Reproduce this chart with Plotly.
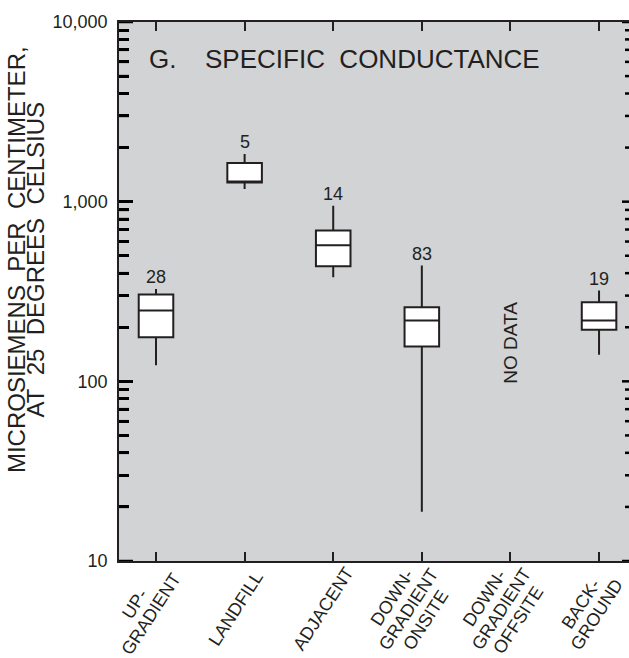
import math
import plotly.graph_objects as go

# ---- data ----
category_lines = [["UP-", "GRADIENT"], ["LANDFILL"], ["ADJACENT"],
                  ["DOWN-", "GRADIENT", "ONSITE"], ["DOWN-", "GRADIENT", "OFFSITE"],
                  ["BACK-", "GROUND"]]
counts = [28, 5, 14, 83, None, 19]
lower_whisker = [122.7, 1177, 380, 18.8, None, 140.8]
q1_values = [176, 1280, 437, 156.5, None, 193.8]
median_values = [248, 1280, 572, 218, None, 218]
q3_values = [304, 1641, 690, 258.7, None, 275.8]
upper_whisker = [327, 1841, 950, 441, None, 320]
y_tick_values = [10, 100, 1000, 10000]
y_tick_labels = ["10", "100", "1,000", "10,000"]
y_minor_values = [m * 10 ** d for d in range(1, 4) for m in range(2, 10)]
no_data_label = "NO DATA"
no_data_value = 165

INK = "#231f20"
BG = "#d1d3d4"
FONT = "Liberation Sans, Arial, Helvetica, sans-serif"

W, H = 629, 658
ML, MR, MT, MB = 119, 0, 22, 97
PW = W - ML - MR
X_RANGE = [-0.4176, 5.338]
PX_PER_UNIT = PW / (X_RANGE[1] - X_RANGE[0])

fig = go.Figure()

for i, c in enumerate(counts):
    if c is None:
        continue
    fig.add_trace(go.Box(
        x=[i], q1=[q1_values[i]], median=[median_values[i]], q3=[q3_values[i]],
        lowerfence=[lower_whisker[i]], upperfence=[upper_whisker[i]],
        fillcolor="white", line=dict(color=INK, width=2),
        whiskerwidth=0, width=0.39, boxpoints=False, showlegend=False,
        hoverinfo="skip"))

# y-axis tick marks drawn as line segments (left inward; right clipped stubs)
tx, ty = [], []
def add_tick(v, length_px, right=False):
    if right:
        x0, x1 = X_RANGE[1] - length_px / PX_PER_UNIT, X_RANGE[1]
    else:
        x0, x1 = X_RANGE[0], X_RANGE[0] + length_px / PX_PER_UNIT
    tx.extend([x0, x1, None])
    ty.extend([v, v, None])
for v in y_tick_values:
    add_tick(v, 14)
    add_tick(v, 7, right=True)
for v in y_minor_values:
    add_tick(v, 10)
    add_tick(v, 4, right=True)
fig.add_trace(go.Scatter(x=tx, y=ty, mode="lines", line=dict(color="#000000", width=2.5),
                         connectgaps=False, showlegend=False, hoverinfo="skip",
                         cliponaxis=False))

fig.update_layout(
    width=W, height=H,
    margin=dict(l=ML, r=MR, t=MT, b=MB),
    paper_bgcolor="white", plot_bgcolor=BG,
    font=dict(family=FONT, color=INK),
    showlegend=False,
    xaxis=dict(range=X_RANGE, tickmode="array",
               tickvals=list(range(len(category_lines))),
               showticklabels=False, ticks="inside", ticklen=9, tickwidth=2,
               tickcolor=INK, showline=True, linecolor=INK, linewidth=1.5,
               mirror="ticks", showgrid=False, zeroline=False),
    yaxis=dict(type="log", range=[1, 4], showgrid=False, zeroline=False,
               ticks="inside", ticklen=14, tickwidth=2.5, tickcolor="#000000",
               tickmode="array", tickvals=y_tick_values,
               ticktext=y_tick_labels,
               minor=dict(tickmode="array", tickvals=y_minor_values,
                          ticks="inside", ticklen=10, tickwidth=2.5,
                          tickcolor="#000000", showgrid=False),
               showline=True, linecolor=INK, linewidth=1.5,
               tickfont=dict(size=18, color=INK), ticklabelstandoff=6),
)

ann = []
for i, c in enumerate(counts):
    if c is None:
        continue
    ann.append(dict(x=i, y=math.log10(upper_whisker[i]), xref="x", yref="y",
                    text=str(c), showarrow=False, yanchor="bottom",
                    font=dict(size=18, color=INK)))
ann.append(dict(x=4, y=math.log10(no_data_value), xref="x", yref="y",
                text=no_data_label, textangle=-90, showarrow=False,
                font=dict(size=19, color=INK)))
ANG = 57.0
LINE = 20.0
sa, ca = math.sin(math.radians(ANG)), math.cos(math.radians(ANG))
label_xshift = [-13, -9, -10, -13, -9, -10]
label_center_y = 609
plot_bottom = H - MB
for i, lines in enumerate(category_lines):
    n = len(lines)
    for j, line in enumerate(lines):
        k = (j - (n - 1) / 2) * LINE
        dx = k * sa
        dy = k * ca
        ann.append(dict(x=i, y=0, xref="x", yref="paper", text=line,
                        textangle=-ANG, showarrow=False,
                        xanchor="center", yanchor="middle",
                        xshift=label_xshift[i] + dx,
                        yshift=-(label_center_y - plot_bottom) - dy,
                        font=dict(size=18, color=INK)))
ann.append(dict(x=0, y=0.9319, xref="paper", yref="paper", text="G.",
                xanchor="left", yanchor="middle", xshift=28, showarrow=False,
                font=dict(size=26, color=INK)))
ann.append(dict(x=0, y=0.9319, xref="paper", yref="paper",
                text="SPECIFIC\u00a0\u00a0CONDUCTANCE",
                xanchor="left", yanchor="middle", xshift=84, showarrow=False,
                font=dict(size=26, color=INK)))
ann.append(dict(x=0, y=0.5583, xref="paper", yref="paper",
                text="MICROSIEMENS\u00a0\u00a0PER\u00a0\u00a0CENTIMETER,",
                textangle=-90, xanchor="center", yanchor="middle",
                xshift=-103, showarrow=False, font=dict(size=24, color=INK)))
ann.append(dict(x=0, y=0.5583, xref="paper", yref="paper",
                text="AT\u00a0\u00a025\u00a0\u00a0DEGREES\u00a0\u00a0CELSIUS",
                textangle=-90, xanchor="center", yanchor="middle",
                xshift=-83.5, showarrow=False, font=dict(size=24, color=INK)))

fig.update_layout(annotations=ann)
fig.write_html("out.html")
